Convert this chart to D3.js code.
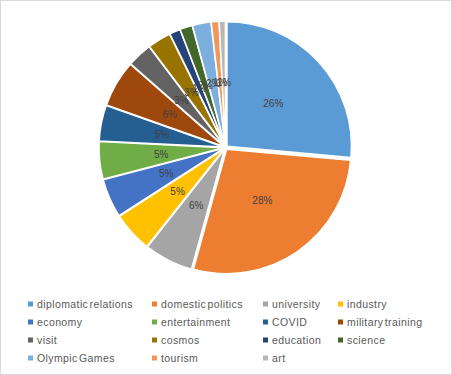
<!DOCTYPE html>
<html><head><meta charset="utf-8">
<script src="https://cdn.jsdelivr.net/npm/d3@7/dist/d3.min.js"></script>
<style>body{margin:0;background:#fff}svg{display:block}</style>
</head><body>
<svg id="c" width="452" height="375"></svg>
<script>
const categories = ["diplomatic relations","domestic politics","university","industry","economy","entertainment","COVID","military training","visit","cosmos","education","science","Olympic Games","tourism","art"];
const values = [26.2, 27.6, 6.3, 5.2, 5.0, 4.8, 4.6, 6.0, 3.2, 3.0, 1.4, 1.6, 2.4, 1.0, 0.8];
const colors = ["#5B9BD5","#ED7D31","#A5A5A5","#FFC000","#4472C4","#70AD47","#255E91","#9E480E","#636363","#997300","#264478","#43682B","#7CAFDD","#F1975A","#B7B7B7"];

const svg = d3.select("#c");
svg.append("rect").attr("x",0.5).attr("y",0.5).attr("width",451).attr("height",374)
  .attr("fill","#fff").attr("stroke","#D9D9D9");

const cx = 225.5, cy = 147.5, R = 124.5, explode = 2;
const total = d3.sum(values);
const pie = d3.pie().sort(null).value(d => d.v);
const data = pie(categories.map((c,i)=>({c, v: values[i], col: colors[i]})));
const arc = d3.arc().innerRadius(0).outerRadius(R);
const labelArc = d3.arc().innerRadius(R*0.52).outerRadius(R*0.52);

const g = svg.append("g").attr("transform",`translate(${cx},${cy})`);
g.selectAll("path").data(data).join("path")
  .attr("d", arc)
  .attr("fill", d => d.data.col)
  .attr("stroke","#fff").attr("stroke-width",1.5).attr("stroke-linejoin","round")
  .attr("transform", d => {
    const a = (d.startAngle + d.endAngle)/2;
    return `translate(${Math.sin(a)*explode},${-Math.cos(a)*explode})`;
  });

g.selectAll("text").data(data).join("text")
  .attr("transform", d => `translate(${labelArc.centroid(d)})`)
  .attr("text-anchor","middle").attr("dy","0.35em")
  .attr("font-family","Liberation Sans, Arial, sans-serif").attr("font-size",10)
  .attr("fill","#404040")
  .text(d => Math.round(d.data.v/total*100) + "%");

// legend
const colX = [28, 152, 263, 338];
const rowY = [304, 322, 340, 358];
const lg = svg.append("g");
categories.forEach((c,i)=>{
  const x = colX[i%4], y = rowY[Math.floor(i/4)];
  lg.append("rect").attr("x",x).attr("y",y-2.5).attr("width",5).attr("height",5).attr("fill",colors[i]);
  lg.append("text").attr("x",x+9).attr("y",y).attr("dy","0.35em")
    .attr("font-family","Liberation Sans, Arial, sans-serif").attr("font-size",10.5)
    .attr("letter-spacing",0.4).attr("word-spacing",-2)
    .attr("fill","#595959").text(c);
});
</script>
</body></html>
